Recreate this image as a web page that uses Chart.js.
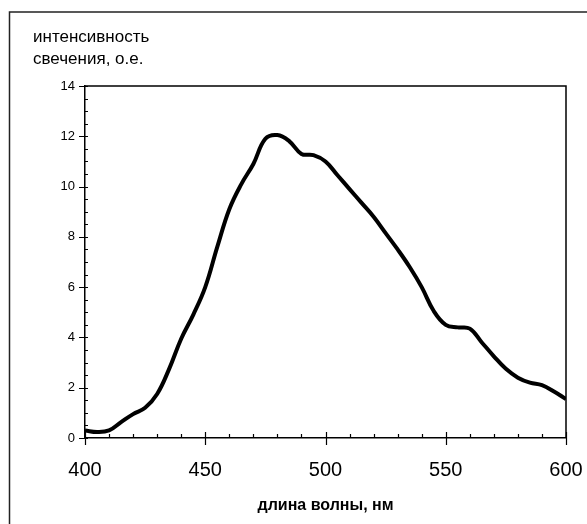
<!DOCTYPE html>
<html lang="ru">
<head>
<meta charset="UTF-8">
<title>Спектр свечения</title>
<script src="https://cdn.jsdelivr.net/npm/chart.js"></script>
<style>
    body {
        margin: 0;
        background: #fff;
    }
    canvas {
        display: block;
    }
</style>
</head>
<body>
<canvas id="spectrum" width="587" height="524"></canvas>
<script>
    // длина волны, нм
    const wavelengths = [400, 405, 410, 415, 420, 425, 430, 435, 440, 445,
                         450, 455, 460, 465, 470, 475, 480, 485, 490, 495,
                         500, 505, 510, 515, 520, 525, 530, 535, 540, 545,
                         550, 555, 560, 565, 570, 575, 580, 585, 590, 595, 600];
    // интенсивность свечения, о.е.
    const intensity = [0.3, 0.24, 0.3, 0.63, 0.95, 1.2, 1.75, 2.75, 3.95, 4.9,
                       6.0, 7.6, 9.1, 10.1, 10.9, 11.9, 12.05, 11.8, 11.3, 11.25,
                       11.0, 10.45, 9.9, 9.35, 8.8, 8.15, 7.5, 6.8, 6.0, 5.05,
                       4.5, 4.4, 4.35, 3.8, 3.25, 2.75, 2.4, 2.2, 2.1, 1.85, 1.55];
    const xTicks = [400, 450, 500, 550, 600];
    const yTicks = [0, 2, 4, 6, 8, 10, 12, 14];

    const FONT = "'Liberation Sans', Arial, sans-serif";

    // outer frame, plot box and tick marks
    const frameAndTicks = {
        id: 'frameAndTicks',
        beforeDraw(chart) {
            const c = chart.ctx;
            c.save();
            c.strokeStyle = '#222';
            c.lineWidth = 1.5;
            c.beginPath();
            c.moveTo(9.5, chart.height + 2);
            c.lineTo(9.5, 12);
            c.lineTo(chart.width + 2, 12);
            c.stroke();
            c.restore();
        },
        afterDraw(chart) {
            const c = chart.ctx;
            const a = chart.chartArea;
            const xs = chart.scales.x, ys = chart.scales.y;
            c.save();
            c.strokeStyle = '#000';
            c.lineWidth = 1.5;
            c.beginPath();
            c.moveTo(a.left, a.top);
            c.lineTo(a.right, a.top);
            c.lineTo(a.right, a.bottom);
            c.stroke();

            c.lineWidth = 1.2;
            c.beginPath();
            // y ticks
            for (let v = ys.min; v <= ys.max + 0.001; v += 0.5) {
                const py = Math.round(ys.getPixelForValue(v)) + 0.5;
                if (yTicks.includes(v)) {
                    c.moveTo(a.left - 6, py);
                    c.lineTo(a.left + 3, py);
                } else {
                    c.moveTo(a.left, py);
                    c.lineTo(a.left + 3, py);
                }
            }
            // x ticks
            for (let v = xs.min; v <= xs.max + 0.001; v += 10) {
                const px = Math.round(xs.getPixelForValue(v)) + 0.5;
                if (xTicks.includes(v)) {
                    c.moveTo(px, a.bottom - 6);
                    c.lineTo(px, a.bottom + 7);
                } else {
                    c.moveTo(px, a.bottom - 4);
                    c.lineTo(px, a.bottom);
                }
            }
            c.stroke();
            c.restore();
        }
    };

    new Chart(document.getElementById('spectrum'), {
        type: 'line',
        data: {
            datasets: [{
                data: wavelengths.map((w, i) => ({ x: w, y: intensity[i] })),
                borderColor: '#000',
                borderWidth: 4,
                pointRadius: 0,
                tension: 0.4,
                fill: false
            }]
        },
        options: {
            responsive: false,
            animation: false,
            layout: {
                padding: { left: 33, top: 27, right: 21, bottom: 0 }
            },
            plugins: {
                legend: { display: false },
                tooltip: { enabled: false },
                title: {
                    display: true,
                    text: ['интенсивность', 'свечения, о.е.'],
                    align: 'start',
                    color: '#000',
                    font: { family: FONT, size: 17, weight: 'normal', lineHeight: 1.265 },
                    padding: { top: 0, bottom: 16 }
                }
            },
            scales: {
                x: {
                    type: 'linear',
                    min: 400,
                    max: 600,
                    afterFit: s => {
                        s.height = 86;
                        s.paddingLeft = 0;
                        s.paddingRight = 0;
                    },
                    afterBuildTicks: s => { s.ticks = xTicks.map(v => ({ value: v })); },
                    grid: { display: false, drawTicks: false },
                    border: { display: true, color: '#000', width: 1.5 },
                    ticks: {
                        color: '#000',
                        padding: 20,
                        maxRotation: 0,
                        font: { family: FONT, size: 20 }
                    },
                    title: {
                        display: true,
                        text: 'длина волны, нм',
                        color: '#000',
                        font: { family: FONT, size: 16, weight: 'bold' },
                        padding: { top: 0, bottom: 9 }
                    }
                },
                y: {
                    min: 0,
                    max: 14,
                    afterFit: s => {
                        s.width = 52;
                        s.paddingTop = 0;
                        s.paddingBottom = 0;
                    },
                    afterBuildTicks: s => { s.ticks = yTicks.map(v => ({ value: v })); },
                    grid: { display: false, drawTicks: false },
                    border: { display: true, color: '#000', width: 1.5 },
                    ticks: {
                        color: '#000',
                        padding: 10,
                        font: { family: FONT, size: 13 }
                    }
                }
            }
        },
        plugins: [frameAndTicks]
    });
</script>
</body>
</html>
